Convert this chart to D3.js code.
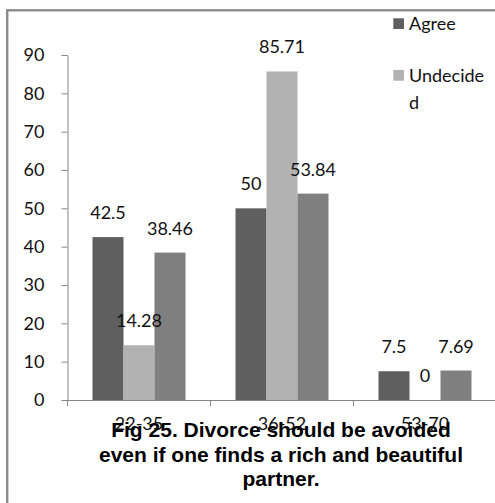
<!DOCTYPE html>
<html><head><meta charset="utf-8">
<script src="https://cdn.jsdelivr.net/npm/d3@7"></script>
<style>html,body{margin:0;padding:0;background:#fff;overflow:hidden}</style>
</head><body>
<svg id="c" width="495" height="503"></svg>
<script>
const categories = ["22-35", "36-52", "53-70"];
const seriesNames = ["Agree", "Undecided", "Disagree"];
const agree = [42.5, 50, 7.5];
const undecided = [14.28, 85.71, 0];
const disagree = [38.46, 53.84, 7.69];
const yTicks = [0, 10, 20, 30, 40, 50, 60, 70, 80, 90];
const titleLines = ["Fig 25. Divorce should be avoided", "even if one finds a rich and beautiful", "partner."];
const legendLines = [["Agree"], ["Undecide", "d"]];

const seriesValues = [agree, undecided, disagree];
const colors = ["#5f5f5f", "#b2b2b2", "#7f7f7f"];
const svg = d3.select("#c");
const font = "Lato, 'Open Sans', sans-serif";

// frame
svg.append("rect").attr("x", 7.2).attr("y", 10.3).attr("width", 600).attr("height", 600)
  .attr("fill", "none").attr("stroke", "#8c8c8c").attr("stroke-width", 2.4);

const y = d3.scaleLinear().domain([0, 90]).range([400, 55]);
const x0 = d3.scaleBand().domain(categories).range([67.5, 496.5]).padding(0);
const x1 = d3.scaleBand().domain(seriesNames).range([25, x0.bandwidth() - 25]).padding(0);

const axisColor = "#868686";
// y axis
const yAxis = svg.append("g").attr("transform", "translate(67.5,0)")
  .call(d3.axisLeft(y).tickValues(yTicks).tickSize(6).tickPadding(17).tickSizeOuter(0));
yAxis.select(".domain").attr("stroke", axisColor);
yAxis.selectAll(".tick line").attr("stroke", axisColor);
yAxis.selectAll("text").attr("font-family", font).attr("font-size", 18).attr("fill", "#111");

// bars
const groups = svg.append("g").selectAll("g").data(categories).join("g")
  .attr("transform", d => `translate(${x0(d)},0)`);
groups.selectAll("rect").data((c, i) => seriesNames.map((s, j) => ({s, v: seriesValues[j][i], j})))
  .join("rect")
  .attr("x", d => x1(d.s)).attr("width", x1.bandwidth())
  .attr("y", d => y(d.v)).attr("height", d => y(0) - y(d.v))
  .attr("fill", d => colors[d.j]);

// x axis
const xAxis = svg.append("g").attr("transform", `translate(0,${y(0)})`)
  .call(d3.axisBottom(x0).tickSize(0).tickPadding(0).tickFormat(""));
xAxis.select(".domain").attr("stroke", axisColor);
const xt = d3.range(categories.length + 1).map(i => 67.5 + i * x0.bandwidth());
svg.append("g").selectAll("line").data(xt).join("line")
  .attr("x1", d => d).attr("x2", d => d).attr("y1", y(0)).attr("y2", y(0) + 6)
  .attr("stroke", axisColor);

// category labels
svg.append("g").selectAll("text").data(categories).join("text")
  .attr("x", d => x0(d) + x0.bandwidth() / 2).attr("y", 430)
  .attr("text-anchor", "middle").attr("font-family", font).attr("font-size", 18).attr("fill", "#111")
  .text(d => d);

// data labels
groups.selectAll("text.v").data((c, i) => seriesNames.map((s, j) => ({s, v: seriesValues[j][i], j})))
  .join("text").attr("class", "v")
  .attr("x", d => x1(d.s) + x1.bandwidth() / 2).attr("y", d => y(d.v) - 18)
  .attr("text-anchor", "middle").attr("font-family", font).attr("font-size", 18).attr("fill", "#111")
  .text(d => d.v);

// title
svg.append("g").selectAll("text").data(titleLines).join("text")
  .attr("x", 281).attr("y", (d, i) => 437 + i * 24.5)
  .attr("text-anchor", "middle").attr("font-family", "'Liberation Sans', Arial, sans-serif")
  .attr("font-weight", "bold").attr("font-size", 21).attr("fill", "#000")
  .text(d => d);

// legend
const lg = svg.append("g");
const legY = [18.3, 70];
legendLines.forEach((lines, i) => {
  lg.append("rect").attr("x", 393.3).attr("y", legY[i]).attr("width", 10.7).attr("height", 10.7).attr("fill", colors[i]);
  lines.forEach((t, k) => {
    lg.append("text").attr("x", 409).attr("y", legY[i] + 11.7 + k * 27.5)
      .attr("font-family", font).attr("font-size", 18).attr("fill", "#111").text(t);
  });
});
</script>
</body></html>
